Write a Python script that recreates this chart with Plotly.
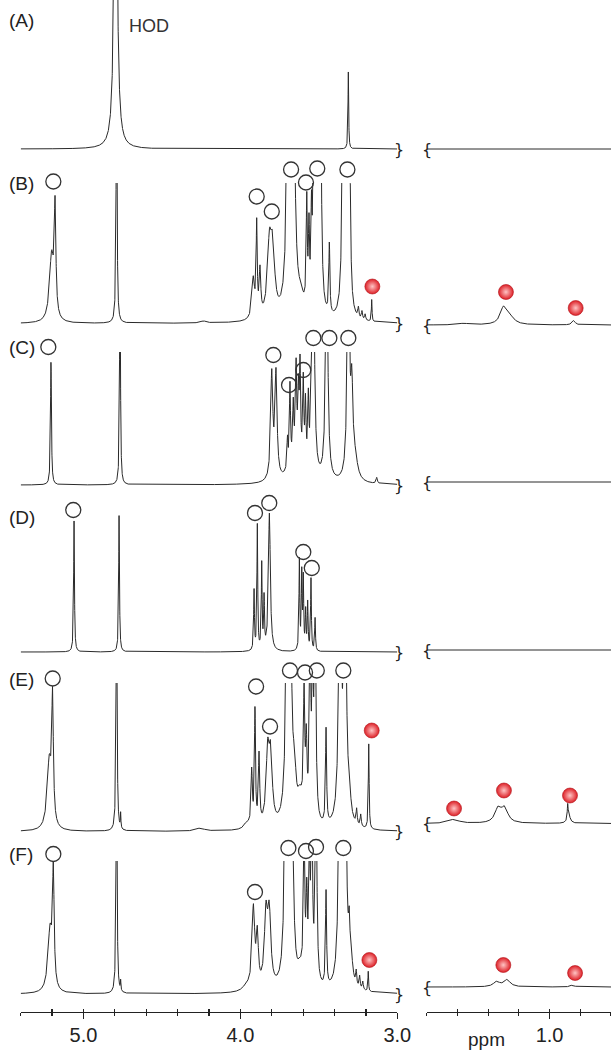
import numpy as np
import plotly.graph_objects as go

# ---------------- data: peak lists ----------------
# each spectrum: peak position (ppm), peak height (px above baseline), half width (ppm)
A_ppm = [4.795, 3.312]
A_hgt = [460, 77]
A_wid = [0.0095, 0.0025]
A_r_ppm, A_r_hgt, A_r_wid = [], [], []

B_ppm = [5.203, 5.181, 4.789, 4.236, 3.918, 3.896, 3.875, 3.815, 3.794, 3.694, 3.663, 3.615,
         3.577, 3.563, 3.547, 3.530, 3.515, 3.500, 3.490, 3.433, 3.344, 3.325, 3.306, 3.248,
         3.225, 3.205, 3.163]
B_hgt = [66, 105, 260, 2, 40, 90, 45, 68, 62, 250, 250, 15,
         105, 75, 80, 250, 200, 200, 250, 70, 250, 150, 250, 10,
         8, 6, 22]
B_wid = [0.016, 0.006, 0.0035, 0.02, 0.010, 0.004, 0.006, 0.015, 0.015, 0.012, 0.012, 0.02,
         0.004, 0.004, 0.004, 0.006, 0.006, 0.006, 0.006, 0.004, 0.008, 0.008, 0.006, 0.004,
         0.004, 0.004, 0.0025]
B_r_ppm = [1.56, 1.300, 1.26, 0.843]
B_r_hgt = [1.5, 16, 7, 4.5]
B_r_wid = [0.04, 0.025, 0.035, 0.012]

C_ppm = [5.207, 4.767, 3.800, 3.773, 3.640, 3.700, 3.684, 3.663, 3.645, 3.630, 3.620, 3.599,
         3.585, 3.567, 3.550, 3.535, 3.450, 3.312, 3.290, 3.270, 3.131]
C_hgt = [123, 250, 105, 105, 35, 30, 80, 50, 80, 55, 85, 80,
         60, 65, 45, 250, 250, 250, 80, 20, 6]
C_wid = [0.0035, 0.003, 0.008, 0.008, 0.04, 0.004, 0.004, 0.004, 0.004, 0.004, 0.004, 0.004,
         0.004, 0.004, 0.004, 0.008, 0.008, 0.008, 0.008, 0.02, 0.005]
C_r_ppm, C_r_hgt, C_r_wid = [], [], []

D_ppm = [5.060, 4.773, 3.913, 3.892, 3.864, 3.849, 3.815, 3.624, 3.609, 3.599, 3.584, 3.571,
         3.550, 3.524]
D_hgt = [131, 137, 60, 125, 85, 50, 138, 90, 75, 70, 38, 47,
         72, 33]
D_wid = [0.003, 0.003, 0.003, 0.003, 0.003, 0.003, 0.007, 0.003, 0.003, 0.003, 0.003, 0.003,
         0.003, 0.003]
D_r_ppm, D_r_hgt, D_r_wid = [], [], []

E_ppm = [5.218, 5.197, 4.789, 4.763, 4.256, 3.960, 3.928, 3.907, 3.881, 3.826, 3.807, 3.700,
         3.684, 3.655, 3.620, 3.594, 3.580, 3.556, 3.540, 3.524, 3.454, 3.365, 3.333, 3.305,
         3.259, 3.233, 3.182]
E_hgt = [68, 120, 260, 15, 3, 6, 55, 115, 70, 70, 65, 250,
         250, 40, 25, 120, 70, 200, 150, 220, 95, 250, 250, 20,
         15, 12, 85]
E_wid = [0.016, 0.006, 0.0035, 0.002, 0.03, 0.02, 0.005, 0.004, 0.005, 0.012, 0.012, 0.010,
         0.010, 0.010, 0.02, 0.005, 0.005, 0.005, 0.005, 0.006, 0.004, 0.010, 0.010, 0.010,
         0.004, 0.004, 0.003]
E_r_ppm = [1.623, 1.335, 1.292, 0.882, 0.875]
E_r_hgt = [4, 14, 14, 14, 8]
E_r_wid = [0.04, 0.025, 0.025, 0.003, 0.012]

F_ppm = [5.213, 5.192, 4.789, 4.763, 3.960, 3.917, 3.892, 3.837, 3.816, 3.709, 3.684, 3.662,
         3.620, 3.594, 3.577, 3.560, 3.545, 3.518, 3.454, 3.365, 3.333, 3.306, 3.290, 3.262,
         3.240, 3.220, 3.185]
F_hgt = [62, 110, 260, 10, 5, 80, 50, 70, 70, 250, 250, 45,
         15, 150, 80, 120, 200, 220, 95, 250, 250, 45, 15, 14,
         12, 8, 20]
F_wid = [0.016, 0.006, 0.0035, 0.002, 0.03, 0.010, 0.008, 0.012, 0.012, 0.010, 0.010, 0.010,
         0.02, 0.005, 0.005, 0.005, 0.005, 0.006, 0.004, 0.010, 0.010, 0.006, 0.010, 0.004,
         0.004, 0.004, 0.0025]
F_r_ppm = [1.345, 1.277, 0.852]
F_r_hgt = [5, 7, 2]
F_r_wid = [0.025, 0.025, 0.015]

# open-circle assignments (ppm, height above baseline in px) per spectrum
B_circ_ppm = [5.192, 3.896, 3.800, 3.677, 3.582, 3.510, 3.318]
B_circ_h = [142, 127, 112, 154, 141, 155, 154]
C_circ_ppm = [5.224, 3.790, 3.690, 3.599, 3.535, 3.433, 3.312]
C_circ_h = [138, 130, 100, 115, 147, 147, 147]
D_circ_ppm = [5.065, 3.907, 3.816, 3.599, 3.545]
D_circ_h = [142, 139, 149, 100, 84]
E_circ_ppm = [5.196, 3.900, 3.811, 3.684, 3.588, 3.513, 3.344]
E_circ_h = [153, 145, 105, 161, 159, 161, 161]
F_circ_ppm = [5.192, 3.907, 3.694, 3.582, 3.518, 3.344]
F_circ_h = [140, 102, 146, 143, 147, 146]

# red-ball assignments: left panel and right panel
B_red_ppm, B_red_h = [3.159], [37]
B_red_r_ppm, B_red_r_h = [1.284, 0.830], [33, 17]
E_red_ppm, E_red_h = [3.163], [101]
E_red_r_ppm, E_red_r_h = [1.622, 1.297, 0.867], [15, 33, 28]
F_red_ppm, F_red_h = [3.178], [34]
F_red_r_ppm, F_red_r_h = [1.301, 0.834], [22, 14]

row_labels = ["(A)", "(B)", "(C)", "(D)", "(E)", "(F)"]
left_ticks = [5.4, 5.2, 5.0, 4.8, 4.6, 4.4, 4.2, 4.0, 3.8, 3.6, 3.4, 3.2, 3.0]
left_major = [5.0, 4.0, 3.0]
left_major_text = ["5.0", "4.0", "3.0"]
right_ticks = [1.8, 1.6, 1.4, 1.2, 1.0, 0.8, 0.6]
right_major = [1.0]
right_major_text = ["1.0"]

spectra_left = [(A_ppm, A_hgt, A_wid), (B_ppm, B_hgt, B_wid), (C_ppm, C_hgt, C_wid),
                (D_ppm, D_hgt, D_wid), (E_ppm, E_hgt, E_wid), (F_ppm, F_hgt, F_wid)]
spectra_right = [(A_r_ppm, A_r_hgt, A_r_wid), (B_r_ppm, B_r_hgt, B_r_wid),
                 (C_r_ppm, C_r_hgt, C_r_wid), (D_r_ppm, D_r_hgt, D_r_wid),
                 (E_r_ppm, E_r_hgt, E_r_wid), (F_r_ppm, F_r_hgt, F_r_wid)]
circles = [([], []), (B_circ_ppm, B_circ_h), (C_circ_ppm, C_circ_h), (D_circ_ppm, D_circ_h),
           (E_circ_ppm, E_circ_h), (F_circ_ppm, F_circ_h)]
reds_left = [([], []), (B_red_ppm, B_red_h), ([], []), ([], []), (E_red_ppm, E_red_h), (F_red_ppm, F_red_h)]
reds_right = [([], []), (B_red_r_ppm, B_red_r_h), ([], []), ([], []),
              (E_red_r_ppm, E_red_r_h), (F_red_r_ppm, F_red_r_h)]

# ---------------- layout geometry (pixels) ----------------
W, H = 611, 1052
left_base = [149, 323.5, 485, 652, 831.5, 994]
right_base = [149, 325, 482, 650, 823.5, 987]
row_top = [0, 183, 352, 500, 683, 861]
label_y = [20, 183, 347, 517, 679, 854]
PAD = 8
EXTRA = 40
XL0, XL1 = 20.7, 397.3
XR0 = 426.7
AXIS_Y = 1011.5

LINE = "#2a2a2a"


def lineshape(x, ppm, hgt, wid):
    y = np.zeros_like(x)
    for p, h, w in zip(ppm, hgt, wid):
        y += h / (1.0 + ((x - p) / w) ** 2)
    return y


xl = np.arange(3.0, 5.4 + 1e-9, 0.0004)
xr = np.arange(0.6, 1.8 + 1e-9, 0.001)

fig = go.Figure()
layout = {}
annotations = []

circle_marker = dict(symbol="circle-open", size=15, color="#333333", line=dict(width=1.3, color="#333333"))
red_marker = dict(symbol="circle", size=15, color="#dd1f26",
                  gradient=dict(type="radial", color="#ffc4c4"),
                  line=dict(width=0.6, color="#b01018"))


def ykey(n):
    return "yaxis" if n == 1 else f"yaxis{n}"


def yname(n):
    return "y" if n == 1 else f"y{n}"


for i in range(6):
    nl, nr = 2 * i + 1, 2 * i + 2          # spectra axes
    ml, mr = 13 + 2 * i, 14 + 2 * i        # marker axes (taller, same scale)
    hl = left_base[i] - row_top[i]
    hr = right_base[i] - row_top[i]
    ex = min(EXTRA, row_top[i])
    ycommon = dict(visible=False, fixedrange=True, automargin=False)
    layout[ykey(nl)] = dict(domain=[(H - left_base[i] - PAD) / H, (H - row_top[i]) / H],
                            range=[-PAD, hl], anchor="x", **ycommon)
    layout[ykey(nr)] = dict(domain=[(H - right_base[i] - PAD) / H, (H - row_top[i]) / H],
                            range=[-PAD, hr], anchor="x2", **ycommon)
    layout[ykey(ml)] = dict(domain=[(H - left_base[i] - PAD) / H, (H - row_top[i] + ex) / H],
                            range=[-PAD, hl + ex], anchor="x", **ycommon)
    layout[ykey(mr)] = dict(domain=[(H - right_base[i] - PAD) / H, (H - row_top[i] + ex) / H],
                            range=[-PAD, hr + ex], anchor="x2", **ycommon)

    p, h, w = spectra_left[i]
    fig.add_trace(go.Scatter(x=xl, y=lineshape(xl, p, h, w), mode="lines",
                             line=dict(color=LINE, width=1.0), xaxis="x", yaxis=yname(nl),
                             hoverinfo="skip", showlegend=False))
    p, h, w = spectra_right[i]
    fig.add_trace(go.Scatter(x=xr, y=lineshape(xr, p, h, w), mode="lines",
                             line=dict(color=LINE, width=1.0), xaxis="x2", yaxis=yname(nr),
                             hoverinfo="skip", showlegend=False))

    cp, ch = circles[i]
    if cp:
        fig.add_trace(go.Scatter(x=cp, y=ch, mode="markers", marker=circle_marker,
                                 xaxis="x", yaxis=yname(ml), cliponaxis=False,
                                 hoverinfo="skip", showlegend=False))
    rp, rh = reds_left[i]
    if rp:
        fig.add_trace(go.Scatter(x=rp, y=rh, mode="markers", marker=red_marker,
                                 xaxis="x", yaxis=yname(ml), cliponaxis=False,
                                 hoverinfo="skip", showlegend=False))
    rp, rh = reds_right[i]
    if rp:
        fig.add_trace(go.Scatter(x=rp, y=rh, mode="markers", marker=red_marker,
                                 xaxis="x2", yaxis=yname(mr), cliponaxis=False,
                                 hoverinfo="skip", showlegend=False))

    # axis-break squiggles
    annotations.append(dict(x=3.0, y=0, xref="x", yref=yname(nl), text="}", showarrow=False,
                            xanchor="center", yanchor="middle", xshift=2,
                            font=dict(family="DejaVu Sans", size=16, color="#222")))
    annotations.append(dict(x=1.8, y=0, xref="x2", yref=yname(nr), text="{", showarrow=False,
                            xanchor="center", yanchor="middle", xshift=0,
                            font=dict(family="DejaVu Sans", size=16, color="#222")))
    # row label
    annotations.append(dict(x=0, y=1 - label_y[i] / H, xref="paper", yref="paper",
                            text=row_labels[i], showarrow=False, xanchor="left", yanchor="middle",
                            xshift=7, font=dict(family="Liberation Sans, Arial", size=19, color="#222")))

# dummy traces so the overlay tick axes are drawn
for ax, yy in (("x3", "y"), ("x4", "y2"), ("x5", "y"), ("x6", "y2")):
    fig.add_trace(go.Scatter(x=[None], y=[None], xaxis=ax, yaxis=yy, showlegend=False, hoverinfo="skip"))

annotations.append(dict(x=127 / W, y=1 - 26 / H, xref="paper", yref="paper", text="HOD",
                        showarrow=False, xanchor="left", yanchor="middle",
                        font=dict(family="Liberation Sans, Arial", size=18, color="#333")))
annotations.append(dict(x=486 / W, y=1 - 1039 / H, xref="paper", yref="paper", text="ppm",
                        showarrow=False, xanchor="center", yanchor="middle",
                        font=dict(family="Liberation Sans, Arial", size=19, color="#222")))

tickfont = dict(family="Liberation Sans, Arial", size=20, color="#222")
axpos = (H - AXIS_Y) / H
common = dict(anchor="free", position=axpos, showgrid=False, zeroline=False, fixedrange=True,
              automargin=False)
tk = dict(tickwidth=1.2, tickcolor="#222", tickmode="array")
# main axes: line, labelled major ticks
layout["xaxis"] = dict(domain=[XL0 / W, XL1 / W], range=[5.4, 3.0], showline=True,
                       linecolor="#222", linewidth=1.2, ticks="outside", ticklen=6,
                       tickvals=left_major, ticktext=left_major_text, tickfont=tickfont,
                       ticklabelstandoff=-1, **tk, **common)
layout["xaxis2"] = dict(domain=[XR0 / W, 1.0], range=[1.8, 0.6], showline=True,
                        linecolor="#222", linewidth=1.2, ticks="outside", ticklen=6,
                        tickvals=right_major, ticktext=right_major_text, tickfont=tickfont,
                        ticklabelstandoff=-1, **tk, **common)
# overlay axes: short crossing ticks every 0.2 ppm
layout["xaxis3"] = dict(overlaying="x", range=[5.4, 3.0], showline=False, ticks="inside",
                        ticklen=3, tickvals=left_ticks, showticklabels=False, **tk, **common)
layout["xaxis4"] = dict(overlaying="x2", range=[1.8, 0.6], showline=False, ticks="inside",
                        ticklen=3, tickvals=right_ticks, showticklabels=False, **tk, **common)
layout["xaxis5"] = dict(overlaying="x", range=[5.4, 3.0], showline=False, ticks="outside",
                        ticklen=3, tickvals=left_ticks, showticklabels=False, **tk, **common)
layout["xaxis6"] = dict(overlaying="x2", range=[1.8, 0.6], showline=False, ticks="outside",
                        ticklen=3, tickvals=right_ticks, showticklabels=False, **tk, **common)

fig.update_layout(template="none", width=W, height=H,
                  margin=dict(l=0, r=0, t=0, b=0, pad=0, autoexpand=False),
                  paper_bgcolor="white", plot_bgcolor="rgba(0,0,0,0)",
                  font=dict(family="Liberation Sans, Arial", color="#222"),
                  annotations=annotations, showlegend=False, **layout)
fig.write_html("out.html", config={"displayModeBar": False, "staticPlot": True},
               post_script="document.body.style.margin='0';document.body.style.overflow='hidden';")
